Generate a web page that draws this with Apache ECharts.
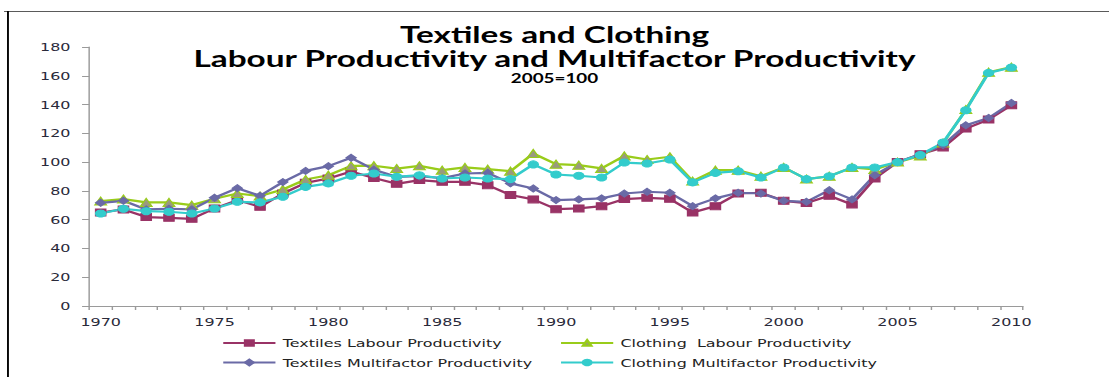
<!DOCTYPE html>
<html>
<head>
<meta charset="utf-8">
<script src="https://cdn.jsdelivr.net/npm/echarts@6/dist/echarts.min.js"></script>
<style>
  html, body { margin: 0; padding: 0; background: #fff; overflow: hidden; }
  /* The chart is laid out on a narrower canvas and widened to the page */
  #chart { width: 765px; height: 377px; transform: scaleX(1.4497); transform-origin: 0 0; }
</style>
</head>
<body>
<div id="chart"></div>
<script>
// Years on the category axis
const years = ['1970','1971','1972','1973','1974','1975','1976','1977','1978','1979',
  '1980','1981','1982','1983','1984','1985','1986','1987','1988','1989',
  '1990','1991','1992','1993','1994','1995','1996','1997','1998','1999',
  '2000','2001','2002','2003','2004','2005','2006','2007','2008','2009','2010'];

// Productivity indexes, 2005 = 100
const textilesLabour = [65.0, 67.1, 61.8, 61.3, 60.6, 67.8, 73.6, 68.9, 78.2, 85.6,
  88.6, 93.5, 89.0, 84.9, 87.5, 86.3, 86.3, 84.0, 77.1, 74.1,
  67.3, 67.8, 69.4, 74.3, 75.2, 74.5, 65.0, 69.4, 78.2, 78.7,
  73.1, 71.5, 76.6, 70.6, 88.6, 100, 105.5, 110.2, 123.3, 129.6, 139.5];
const clothingLabour = [72.9, 74.3, 72.0, 72.0, 70.1, 74.5, 78.2, 76.4, 81.0, 87.9,
  90.9, 97.4, 97.5, 95.5, 97.4, 94.4, 96.3, 95.1, 93.7, 106.0,
  98.6, 97.9, 95.6, 104.3, 101.8, 103.7, 86.8, 94.4, 94.4, 90.2,
  96.3, 88.2, 90.2, 96.3, 94.9, 100, 104.2, 113.2, 136.5, 162.5, 166.0];
const textilesMultifactor = [71.7, 73.1, 67.1, 67.6, 67.1, 75.2, 81.9, 76.6, 86.1, 93.9,
  97.2, 103.0, 94.7, 89.8, 90.2, 88.9, 92.1, 92.5, 85.2, 81.7,
  73.6, 74.1, 74.8, 78.2, 79.4, 78.7, 69.4, 74.8, 78.7, 78.2,
  73.1, 72.4, 80.5, 74.1, 90.9, 100, 105.5, 111.8, 125.6, 130.7, 141.1];
const clothingMultifactor = [64.3, 67.6, 65.9, 65.5, 64.3, 67.8, 72.4, 72.0, 75.9, 82.8,
  85.2, 90.5, 92.1, 89.8, 90.9, 88.6, 89.3, 88.6, 88.2, 98.4,
  91.4, 90.5, 89.3, 99.7, 99.0, 101.8, 85.9, 92.5, 93.7, 89.3,
  96.3, 88.2, 90.2, 96.3, 96.3, 100, 105.0, 113.6, 136.1, 162.0, 165.7];

const seriesNames = ['Textiles Labour Productivity', 'Clothing  Labour Productivity',
  'Textiles Multifactor Productivity', 'Clothing Multifactor Productivity'];

const titleLines = ['Textiles and Clothing', 'Labour Productivity and Multifactor Productivity'];
const subtitleText = '2005=100';

const labelFont = 'DejaVu Sans, Verdana, sans-serif';
const titleFont = 'Lato, Carlito, sans-serif';

function lineSeries(name, data, color, symbol, size, markerFill) {
  return {
    name: name,
    type: 'line',
    data: data,
    symbol: symbol,
    symbolSize: size,
    showSymbol: true,
    lineStyle: { color: color, width: 2.2 },
    itemStyle: { color: markerFill || color, borderColor: color, borderWidth: 1 },
    emphasis: { disabled: true },
    animation: false
  };
}

function legendColumn(names, left) {
  return {
    data: names,
    orient: 'vertical', left: left, top: 337, height: 40, padding: 0,
    itemWidth: 36, itemHeight: 7, itemGap: 7.5,
    textStyle: { fontFamily: labelFont, fontSize: 11, lineHeight: 12, color: '#222' },
    selectedMode: false
  };
}

function titleLine(text, top, size, lineHeight) {
  return {
    text: text, left: 'center', top: top, padding: 0,
    textStyle: { fontFamily: titleFont, fontWeight: 'bold', fontSize: size, lineHeight: lineHeight, color: '#000' }
  };
}

const chart = echarts.init(document.getElementById('chart'), null, { renderer: 'svg' });
chart.setOption({
  backgroundColor: '#ffffff',
  animation: false,
  title: [
    titleLine(titleLines[0], 24.5, 23, 20),
    titleLine(titleLines[1], 48, 23, 20),
    titleLine(subtitleText, 71.5, 13, 12)
  ],
  graphic: [
    { type: 'line', shape: { x1: 2.8, y1: 11.5, x2: 765, y2: 11.5 }, style: { stroke: '#5a5a5a', lineWidth: 1.2 } },
    { type: 'line', shape: { x1: 5.5, y1: 11, x2: 5.5, y2: 377 }, style: { stroke: '#000', lineWidth: 1.3 } }
  ],
  legend: [
    legendColumn([seriesNames[0], seriesNames[2]], 153),
    legendColumn([seriesNames[1], seriesNames[3]], 386)
  ],
  grid: { left: 61.6, right: 59.5, top: 47, bottom: 71, containLabel: false },
  xAxis: {
    type: 'category',
    data: years,
    boundaryGap: true,
    axisLine: { lineStyle: { color: '#9a9a9a', width: 1 } },
    axisTick: { show: true, interval: 0, length: 4, lineStyle: { color: '#9a9a9a' } },
    axisLabel: { interval: 4, margin: 10, fontFamily: labelFont, fontSize: 11, color: '#2a2a3a' },
    splitLine: { show: false }
  },
  yAxis: {
    type: 'value',
    min: 0, max: 180, interval: 20,
    axisLine: { show: true, lineStyle: { color: '#9a9a9a', width: 1 } },
    axisTick: { show: true, length: 5, lineStyle: { color: '#9a9a9a' } },
    axisLabel: { margin: 13, fontFamily: labelFont, fontSize: 11, color: '#2a2a3a' },
    splitLine: { show: false }
  },
  series: [
    lineSeries(seriesNames[0], textilesLabour, '#993366', 'rect', 7),
    lineSeries(seriesNames[1], clothingLabour, '#99cc1a', 'triangle', 8, '#9a9a7e'),
    lineSeries(seriesNames[2], textilesMultifactor, '#6a6aa6', 'diamond', 7),
    lineSeries(seriesNames[3], clothingMultifactor, '#33cccc', 'circle', 7)
  ]
});
</script>
</body>
</html>
